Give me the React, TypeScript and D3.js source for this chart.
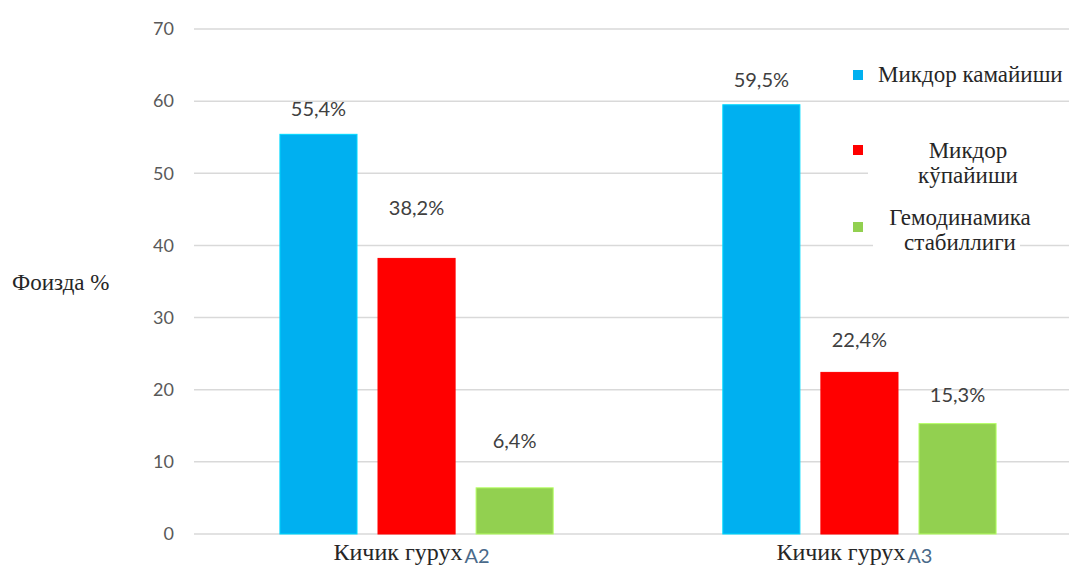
import React from "react";
import * as d3 from "d3";

const categories = ["А2", "А3"];
const seriesNames = ["Микдор камайиши", "Микдор кўпайиши", "Гемодинамика стабиллиги"];
const seriesColors = ["#00B0F0", "#FF0000", "#92D050"];
const valuesA2 = [55.4, 38.2, 6.4];
const valuesA3 = [59.5, 22.4, 15.3];
const labelsA2 = ["55,4%", "38,2%", "6,4%"];
const labelsA3 = ["59,5%", "22,4%", "15,3%"];
const yTicks = [0, 10, 20, 30, 40, 50, 60, 70];
// vertical lift of each data label above its bar (layout, px)
const liftA2 = [18, 43, 40];
const liftA3 = [18, 25, 22];

const W = 1069;
const H = 569;

export default function App() {
  const y = d3.scaleLinear().domain([0, 70]).range([534, 29]);
  const x0 = d3.scaleBand<string>().domain(categories).range([194, 1082]).paddingInner(0.383).paddingOuter(0.194);
  const x1 = d3.scaleBand<number>().domain([0, 1, 2]).range([0, x0.bandwidth()]).paddingInner(0.214).paddingOuter(0);
  const values = [valuesA2, valuesA3];
  const labels = [labelsA2, labelsA3];
  const lifts = [liftA2, liftA3];
  const sans = "Lato, 'Open Sans', sans-serif";
  const serif = "'Liberation Serif', 'DejaVu Serif', serif";

  return (
    <svg width={W} height={H} style={{ position: "absolute", left: 0, top: 0, background: "#fff" }}>
      {yTicks.map((t) => (
        <g key={t}>
          <line x1={194} x2={W} y1={y(t)} y2={y(t)} stroke="#d9d9d9" strokeWidth={1.5} />
          <text x={174} y={y(t)} dy="0.35em" textAnchor="end" fontFamily={sans} fontSize={18} fill="#595959">
            {t}
          </text>
        </g>
      ))}
      <text x={12} y={290} fontFamily={serif} fontSize={23} fill="#262626">Фоизда %</text>

      {categories.map((c, ci) => (
        <g key={c} transform={`translate(${x0(c)},0)`}>
          {values[ci].map((v, si) => (
            <g key={si}>
              <rect
                x={x1(si)}
                y={y(v)}
                width={x1.bandwidth()}
                height={y(0) - y(v)}
                fill={seriesColors[si]}
                stroke={d3.color(seriesColors[si])!.brighter(0.6).toString()}
                strokeWidth={1}
              />
              <text
                x={(x1(si) as number) + x1.bandwidth() / 2}
                y={y(v) - lifts[ci][si]}
                textAnchor="middle"
                fontFamily={sans}
                fontSize={20}
                fill="#404040"
              >
                {labels[ci][si]}
              </text>
            </g>
          ))}
          <text x={x0.bandwidth() / 2 - 5} y={560} textAnchor="middle" fontFamily={serif} fontSize={24} fill="#262626">
            <tspan>Кичик гурух</tspan>
            <tspan dx={2} dy={3} fontFamily={sans} fontSize={20} fill="#4a6a8a">{c}</tspan>
          </text>
        </g>
      ))}

      {/* legend */}
      <rect x={868} y={132} width={W - 868} height={60} fill="#fff" />
      <rect x={873} y={205} width={147} height={50} fill="#fff" />
      <rect x={853} y={70} width={10} height={10} fill={seriesColors[0]} />
      <text x={878} y={82} fontFamily={serif} fontSize={23} fill="#262626">{seriesNames[0]}</text>
      <rect x={853} y={145} width={10} height={10} fill={seriesColors[1]} />
      <text x={968} y={158} textAnchor="middle" fontFamily={serif} fontSize={23} fill="#262626">
        <tspan x={968}>Микдор</tspan>
        <tspan x={968} dy={25}>кўпайиши</tspan>
      </text>
      <rect x={853} y={222} width={10} height={10} fill={seriesColors[2]} />
      <text x={960} y={225} textAnchor="middle" fontFamily={serif} fontSize={23} fill="#262626">
        <tspan x={960}>Гемодинамика</tspan>
        <tspan x={960} dy={25}>стабиллиги</tspan>
      </text>
    </svg>
  );
}
